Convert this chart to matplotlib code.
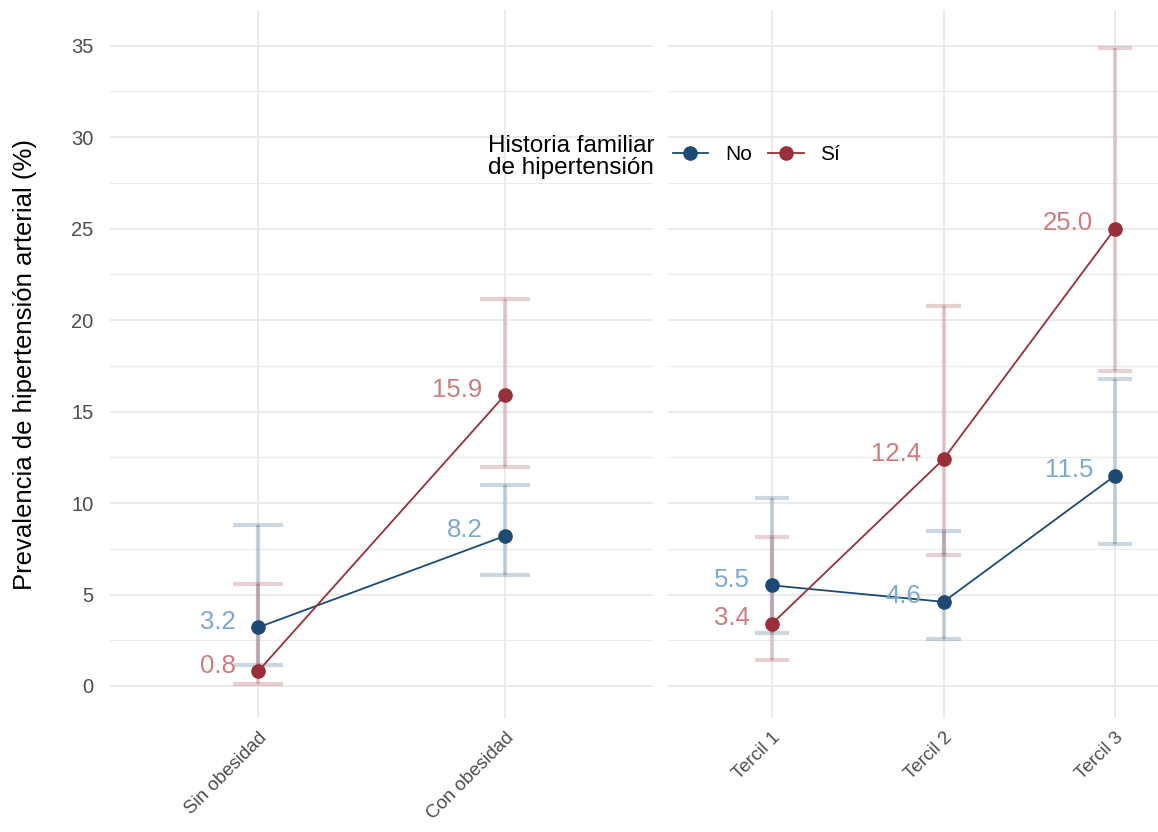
import numpy as np
import matplotlib
matplotlib.use("Agg")
import matplotlib.pyplot as plt
from matplotlib.lines import Line2D

plt.rcParams["font.family"] = ["Liberation Sans", "DejaVu Sans"]

# left panel: obesity
obes_cats = ["Sin obesidad", "Con obesidad"]
obes_no = [3.2, 8.2]
obes_no_lo = [1.15, 6.05]
obes_no_hi = [8.8, 11.0]
obes_si = [0.8, 15.9]
obes_si_lo = [0.1, 11.95]
obes_si_hi = [5.55, 21.15]

# right panel: terciles
terc_cats = ["Tercil 1", "Tercil 2", "Tercil 3"]
terc_no = [5.5, 4.6, 11.5]
terc_no_lo = [2.9, 2.55, 7.75]
terc_no_hi = [10.25, 8.45, 16.8]
terc_si = [3.4, 12.4, 25.0]
terc_si_lo = [1.4, 7.15, 17.2]
terc_si_hi = [8.15, 20.75, 34.9]

col_no = "#1d4a74"
col_si = "#973038"
lab_no = "#7ea8d2"
lab_si = "#cc7c7c"
grid_col = "#ebebeb"

fig = plt.figure(figsize=(11.58, 8.32), dpi=100)
ax1 = fig.add_axes([110 / 1158, 1 - 718 / 832, 543 / 1158, 708 / 832])
ax2 = fig.add_axes([668 / 1158, 1 - 718 / 832, 490 / 1158, 708 / 832])


def draw_panel(ax, cats, no, no_lo, no_hi, si, si_lo, si_hi):
    x = np.arange(len(cats))
    for vals, lo, hi, c, lc in [(no, no_lo, no_hi, col_no, lab_no),
                                 (si, si_lo, si_hi, col_si, lab_si)]:
        vals = np.array(vals)
        err = [vals - np.array(lo), np.array(hi) - vals]
        ax.errorbar(x, vals, yerr=err, fmt="none", ecolor=c, alpha=0.22,
                    elinewidth=3.0, capsize=0, zorder=2)
        # caps, 0.2 category units wide
        ax.hlines(lo, x - 0.1, x + 0.1, colors=c, alpha=0.22, linewidth=3.0, zorder=2)
        ax.hlines(hi, x - 0.1, x + 0.1, colors=c, alpha=0.22, linewidth=3.0, zorder=2)
        ax.plot(x, vals, color=c, linewidth=1.3, marker="o", markersize=9.5,
                zorder=4)
        for xi, v in zip(x, vals):
            ax.annotate(f"{v:.1f}", (xi, v), xytext=(-16, 4),
                        textcoords="offset points", ha="right", va="center",
                        color=lc, fontsize=18.5, zorder=5)
    ax.set_xticks(x)
    ax.set_xticklabels(cats, rotation=45, ha="right", rotation_mode="anchor",
                       fontsize=13.5, color="#4d4d4d")
    ax.set_ylim(-1.75, 36.95)
    ax.set_yticks(np.arange(0, 36, 5))
    ax.set_yticks(np.arange(2.5, 36, 5), minor=True)
    ax.grid(True, which="major", color=grid_col, linewidth=1.4, zorder=0)
    ax.grid(True, which="minor", axis="y", color=grid_col, linewidth=0.8, zorder=0)
    ax.tick_params(length=0, which="both")
    ax.tick_params(axis="x", pad=8)
    for s in ax.spines.values():
        s.set_visible(False)
    ax.set_axisbelow(True)


draw_panel(ax1, obes_cats, obes_no, obes_no_lo, obes_no_hi,
           obes_si, obes_si_lo, obes_si_hi)
draw_panel(ax2, terc_cats, terc_no, terc_no_lo, terc_no_hi,
           terc_si, terc_si_lo, terc_si_hi)

ax1.set_xlim(-0.6, 1.6)
ax2.set_xlim(-0.606, 2.25)
ax1.tick_params(axis="y", labelsize=14.5, labelcolor="#4d4d4d", pad=12)
ax2.set_yticklabels([])
ax1.set_ylabel("Prevalencia de hipertensión arterial (%)", fontsize=18.5)
ax1.yaxis.set_label_coords(-0.134, 0.5)

# legend
fig.text(654 / 1158, 1 - 157 / 832, "Historia familiar\nde hipertensión",
         ha="right", va="center", fontsize=17.5, linespacing=1.0)
handles = [Line2D([], [], color=col_no, marker="o", markersize=9.5, linewidth=1.3),
           Line2D([], [], color=col_si, marker="o", markersize=9.5, linewidth=1.3)]
fig.legend(handles, ["No", "Sí"], ncol=2, frameon=False, fontsize=15,
           loc="center left", bbox_to_anchor=(654 / 1158, 1 - 155 / 832),
           handlelength=1.7, handletextpad=0.8, columnspacing=0.8)

fig.savefig("out.png", dpi=100, facecolor="white")
